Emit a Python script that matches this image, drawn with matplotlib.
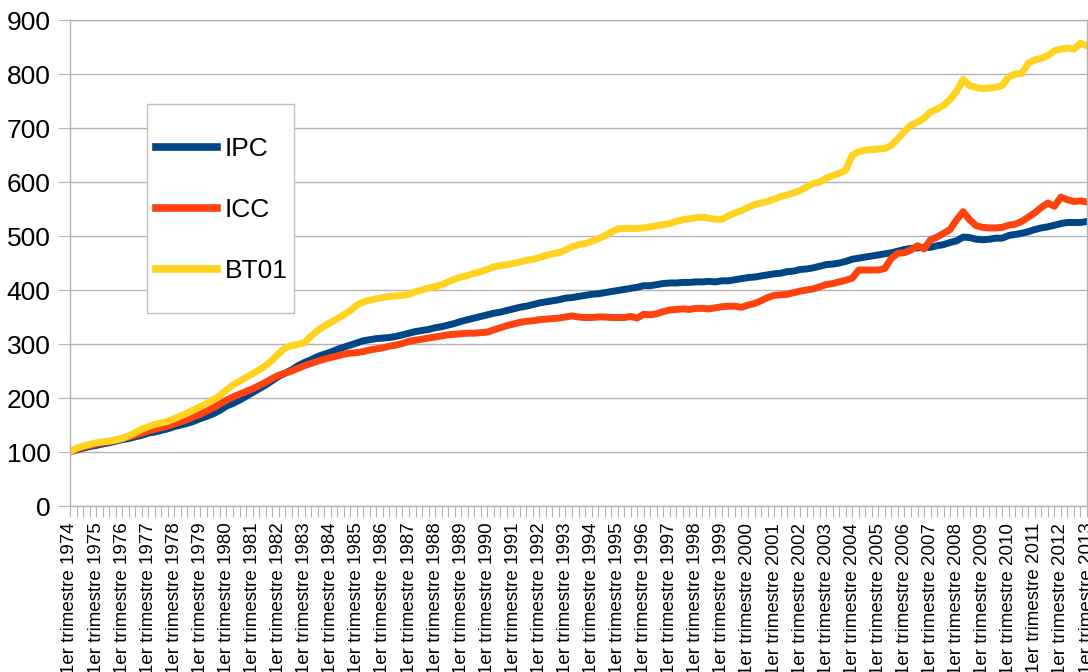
import matplotlib
matplotlib.use("Agg")
import matplotlib.pyplot as plt
from matplotlib.patches import Rectangle

plt.rcParams['font.family'] = ['Liberation Sans', 'DejaVu Sans']

# --- donnees trimestrielles, base 100 au 1er trimestre 1974 ---
annees = list(range(1974, 2014))

ipc = [100, 104, 107, 110,  112, 115, 117, 120,  123, 125, 128, 131,
       135, 137, 140, 143,  147, 150, 153, 157,  162, 166, 171, 177,
       185, 190, 196, 203,  210, 217, 224, 232,  240, 246, 252, 260,
       266, 271, 277, 281,  285, 290, 294, 298,  302, 306, 308, 310,
       311, 312, 314, 317,  320, 323, 325, 327,  330, 332, 335, 338,
       342, 345, 348, 351,  354, 357, 359, 362,  365, 368, 370, 373,
       376, 378, 380, 382,  385, 386, 388, 390,  392, 393, 395, 397,
       399, 401, 403, 405,  408, 408, 410, 412,  413, 413, 414, 414,
       415, 415, 416, 415,  417, 417, 419, 421,  423, 424, 426, 428,
       430, 431, 434, 435,  438, 439, 441, 444,  447, 448, 450, 453,
       457, 459, 461, 463,  465, 467, 469, 472,  475, 477, 478, 479,
       479, 482, 484, 488,  491, 498, 497, 494,  493, 494, 496, 496,
       501, 503, 505, 508,  512, 515, 517, 520,  523, 525, 525, 525,
       527]

icc = [100, 105, 109, 112,  115, 117, 119, 122,  125, 128, 131, 135,
       139, 142, 145, 148,  152, 156, 160, 165,  170, 176, 182, 189,
       196, 202, 207, 212,  217, 223, 229, 236,  242, 246, 250, 255,
       260, 264, 268, 272,  275, 278, 281, 283,  284, 286, 289, 291,
       293, 296, 298, 301,  305, 307, 309, 311,  313, 315, 317, 318,
       319, 320, 320, 321,  322, 326, 330, 334,  337, 340, 342, 343,
       345, 346, 347, 348,  350, 352, 350, 349,  349, 350, 350, 349,
       349, 349, 351, 348,  355, 354, 356, 360,  363, 364, 365, 364,
       366, 366, 365, 367,  369, 370, 370, 368,  372, 375, 380, 386,
       390, 391, 392, 395,  398, 400, 402, 406,  410, 412, 415, 418,
       422, 437, 437, 437,  437, 440, 459, 468,  469, 474, 482, 476,
       493, 498, 505, 512,  530, 545, 530, 519,  516, 515, 515, 516,
       520, 522, 527, 535,  543, 553, 561, 555,  572, 567, 564, 565,
       563]

bt01 = [100, 107, 111, 114,  117, 119, 120, 122,  125, 130, 136, 142,
        147, 151, 154, 157,  162, 167, 172, 178,  184, 190, 197, 205,
        215, 224, 231, 238,  245, 252, 260, 270,  282, 293, 297, 299,
        303, 315, 325, 333,  340, 347, 354, 362,  372, 378, 381, 384,
        386, 388, 389, 390,  392, 397, 400, 404,  406, 410, 415, 420,
        424, 427, 431, 434,  438, 443, 445, 447,  449, 452, 455, 457,
        460, 464, 467, 469,  474, 480, 484, 486,  490, 495, 500, 507,
        513, 514, 514, 514,  515, 517, 519, 521,  523, 527, 530, 532,
        534, 535, 533, 531,  531, 537, 543, 547,  553, 558, 561, 564,
        568, 573, 576, 580,  584, 591, 597, 600,  607, 612, 616, 622,
        650, 656, 659, 660,  661, 662, 668, 680,  694, 705, 711, 718,
        730, 735, 742, 753,  768, 790, 778, 775,  773, 774, 775, 779,
        795, 800, 801, 820,  826, 829, 834, 843,  846, 848, 846, 857,
        852]

series = [("IPC", ipc, "#004586"), ("ICC", icc, "#ff420e"), ("BT01", bt01, "#ffd320")]

n = len(ipc)
etiquettes = []
for a in annees:
    for q in range(4):
        etiquettes.append("1er trimestre %d" % a if q == 0 else "")
etiquettes = etiquettes[:n]

fig = plt.figure(figsize=(10.88, 6.72), dpi=100)
ax = fig.add_axes([70/1088, 166/672, 1017/1088, 486/672])

x = list(range(n))
lignes = []
for nom, val, coul in series:
    l, = ax.plot(x, val, color=coul, lw=5, solid_joinstyle='round', label=nom)
    lignes.append(l)

gris = "#b3b3b3"
ax.set_xlim(0, n - 1)
ax.set_ylim(0, 900)
ax.set_yticks(range(0, 901, 100))
ax.yaxis.grid(True, color=gris, lw=1)
ax.set_axisbelow(True)
for s in ax.spines.values():
    s.set_color(gris)
    s.set_linewidth(1)

ax.set_xticks(x)
ax.set_xticklabels(etiquettes, rotation=90, ha='center', va='top', fontsize=13.5)
ax.tick_params(axis='x', length=8, color=gris, pad=4)
ax.tick_params(axis='y', length=9, color=gris, pad=5, labelsize=19)

# legende
cadre = Rectangle((147/1088, 359/672), 147/1088, 209/672,
                  transform=fig.transFigure, facecolor='white',
                  edgecolor='#c0c0c0', lw=1, zorder=5, clip_on=False)
ax.add_patch(cadre)
leg = ax.legend(handles=lignes, loc='center left', bbox_to_anchor=(156/1088, 462/672),
                bbox_transform=fig.transFigure, frameon=False, fontsize=19,
                borderpad=0, borderaxespad=0, handlelength=2.3, handletextpad=0.3,
                labelspacing=1.4)
for h in leg.get_lines():
    h.set_linewidth(5.5)
leg.set_zorder(6)

fig.savefig("out.png", dpi=100)
